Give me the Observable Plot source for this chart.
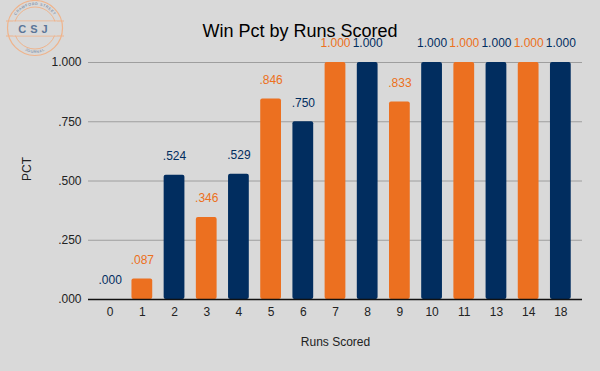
<!DOCTYPE html>
<html>
<head>
<meta charset="utf-8">
<script src="https://cdn.jsdelivr.net/npm/d3@7"></script>
<script src="https://cdn.jsdelivr.net/npm/@observablehq/plot@0.6"></script>
<style>
  html, body { margin: 0; padding: 0; background: #d9d9d9; }
  #wrap { position: relative; width: 600px; height: 371px; background: #d9d9d9; font-family: "Liberation Sans", Arial, sans-serif; }
  #title { position: absolute; left: 0; top: 20px; width: 600px; text-align: center; font-size: 18px; line-height: 22px; color: #000; z-index: 2; }
  #logo { position: absolute; left: 0; top: 0; z-index: 2; }
  #chart svg { display: block; }
</style>
</head>
<body>
<div id="wrap">
  <svg id="logo" width="72" height="60" viewBox="0 0 72 60">
    <defs>
      <path id="arcTop" d="M 12 28 A 23 23 0 0 1 58 28"/>
      <path id="arcBot" d="M 15 33 A 20 20 0 0 0 55 33"/>
    </defs>
    <circle cx="35" cy="28" r="27.5" fill="none" stroke="#efb48c" stroke-width="1.2"/>
    <circle cx="35" cy="28" r="21" fill="none" stroke="#efb48c" stroke-width="1"/>
    <line x1="6" y1="21" x2="64" y2="21" stroke="#efb48c" stroke-width="1.2"/>
    <line x1="6" y1="36" x2="64" y2="36" stroke="#efb48c" stroke-width="1.2"/>
    <rect x="13" y="21.6" width="44" height="13.8" fill="#d9d9d9"/>
    <text x="35" y="33" text-anchor="middle" font-size="11" font-weight="bold" letter-spacing="4" fill="#5b7597" font-family="Liberation Sans, Arial">CSJ</text>
    <text font-size="3.6" fill="#5b7597" letter-spacing="0.6" font-family="Liberation Sans, Arial"><textPath href="#arcTop" startOffset="50%" text-anchor="middle">CRAWFORD STREET</textPath></text>
    <text font-size="3.6" fill="#5b7597" letter-spacing="0.6" font-family="Liberation Sans, Arial"><textPath href="#arcBot" startOffset="50%" text-anchor="middle">JOURNAL</textPath></text>
  </svg>
  <div id="title">Win Pct by Runs Scored</div>
  <div id="chart"></div>
</div>
<script>
const runs = ["0","1","2","3","4","5","6","7","8","9","10","11","13","14","18"];
const pct = [0, 0.087, 0.524, 0.346, 0.529, 0.846, 0.750, 1.000, 1.000, 0.833, 1.000, 1.000, 1.000, 1.000, 1.000];
const yTicks = [0, 0.25, 0.5, 0.75, 1];

const navy = "#012d5f";
const orange = "#ec7020";
const data = runs.map((r, i) => ({runs: r, pct: pct[i], color: i % 2 === 0 ? navy : orange}));
const fmt = v => v >= 1 ? d3.format(".3f")(v) : d3.format(".3f")(v).replace(/^0/, "");

const chart = Plot.plot({
  width: 600,
  height: 371,
  marginTop: 62,
  marginBottom: 72,
  marginLeft: 88,
  marginRight: 18,
  style: {background: "#d9d9d9", fontFamily: "Liberation Sans, Arial, sans-serif", fontSize: "12px", color: "#222"},
  x: {domain: runs, padding: 0.355, paddingOuter: 0.35, round: false},
  y: {domain: [0, 1]},
  marks: [
    Plot.ruleY(yTicks.filter(d => d > 0), {stroke: "#9e9e9e", strokeWidth: 1}),
    Plot.barY(data, {x: "runs", y: "pct", fill: "color", rx: 2}),
    Plot.ruleY([0], {stroke: "#111", strokeWidth: 1.5}),
    Plot.text(data, {x: "runs", y: "pct", text: d => fmt(d.pct), fill: "color", dy: -19, fontSize: 12}),
    Plot.axisY({ticks: yTicks, tickFormat: fmt, tickSize: 0, tickPadding: 7, label: null, fontSize: 12}),
    Plot.axisX({tickSize: 0, tickPadding: 8, label: null, fontSize: 12}),
    Plot.text(["PCT"], {frameAnchor: "left", dx: -61, rotate: -90, fontSize: 12, fill: "#222"}),
    Plot.text(["Runs Scored"], {frameAnchor: "bottom", dy: 46, fontSize: 12, fill: "#222"})
  ]
});
document.getElementById("chart").appendChild(chart);
</script>
</body>
</html>
